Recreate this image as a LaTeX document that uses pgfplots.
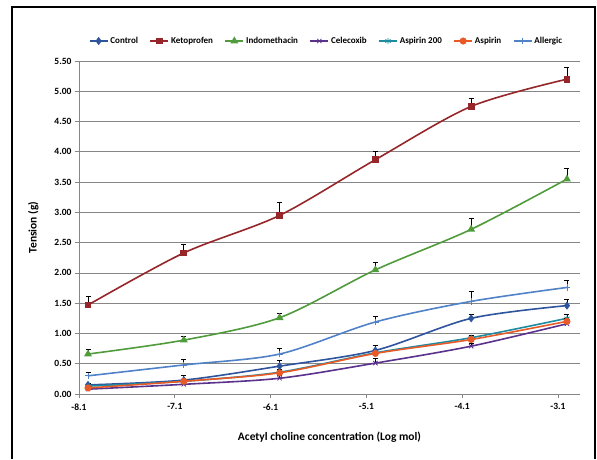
\documentclass[border=0pt]{standalone}
\usepackage{fontspec}
\setmainfont{Carlito}
\usepackage{pgfplots}
\pgfplotsset{compat=1.18}

\definecolor{cControl}{RGB}{46,84,158}
\definecolor{cKeto}{RGB}{150,38,42}
\definecolor{cIndo}{RGB}{80,155,60}
\definecolor{cCele}{RGB}{90,50,140}
\definecolor{cAsp2}{RGB}{30,140,160}
\definecolor{cAsp}{RGB}{232,90,40}
\definecolor{cAll}{RGB}{80,130,200}
\definecolor{gridgray}{RGB}{134,134,134}

\begin{document}
\begin{tikzpicture}
  \begin{axis}[
      at={(0pt,0pt)}, anchor=south west,
      width=501pt, height=333pt, scale only axis,
      xmin=-8.194, xmax=-2.964,
      ymin=0, ymax=5.5,
      xtick={-8.194,-7.194,-6.194,-5.194,-4.194,-3.194},
      xticklabels={-8.1,-7.1,-6.1,-5.1,-4.1,-3.1},
      ytick distance=0.5,
      yticklabel style={/pgf/number format/.cd, fixed, fixed zerofill, precision=2},
      /pgf/number format/assume math mode=true,
      ticklabel style={font=\bfseries\fontsize{9.5}{11}\selectfont, black},
      xticklabel style={yshift=-2pt},
      axis x line=bottom, axis y line=left,
      axis line style={-, gridgray, line width=0.8pt},
      tick style={gridgray, line width=0.8pt},
      tick align=outside, major tick length=4pt,
      ymajorgrids, grid style={gridgray, line width=0.8pt},
      xlabel={Acetyl choline concentration (Log mol)},
      ylabel={Tension (g)},
      label style={font=\bfseries\fontsize{11.5}{13}\selectfont},
      xlabel style={yshift=-15pt},
      ylabel style={yshift=9pt},
      every axis plot/.append style={line width=1.6pt, smooth, tension=0.5},
      error bars/y dir=plus, error bars/y explicit,
      error bars/error bar style={black, line width=0.7pt},
      error bars/error mark options={black, rotate=90, mark size=2.5pt, line width=0.7pt},
      legend columns=7,
      legend style={at={(0.494,1.06)}, anchor=center, draw=none,
        font=\bfseries\fontsize{9}{11}\selectfont,
        /tikz/every even column/.append style={column sep=9.5pt}},
      legend image code/.code={\draw[mark repeat=2,mark phase=2]
        plot coordinates {(0pt,0pt) (9pt,0pt) (18pt,0pt)};},
    ]

    \addplot[cControl, mark=diamond*, mark size=2.8pt, mark options={solid, fill=cControl}]
      coordinates {(-8.1,0.15) +- (0,0.03) (-7.1,0.23) +- (0,0.07) (-6.1,0.46) +- (0,0.09)
        (-5.1,0.72) +- (0,0.08) (-4.1,1.25) +- (0,0.07) (-3.1,1.46) +- (0,0.10)};
    \addlegendentry{Control}

    \addplot[cKeto, mark=square*, mark size=2.6pt, mark options={solid, fill=cKeto}]
      coordinates {(-8.1,1.47) +- (0,0.15) (-7.1,2.33) +- (0,0.15) (-6.1,2.95) +- (0,0.22)
        (-5.1,3.87) +- (0,0.13) (-4.1,4.75) +- (0,0.14) (-3.1,5.20) +- (0,0.20)};
    \addlegendentry{Ketoprofen}

    \addplot[cIndo, mark=triangle*, mark size=3pt, mark options={solid, fill=cIndo}]
      coordinates {(-8.1,0.66) +- (0,0.08) (-7.1,0.89) +- (0,0.07) (-6.1,1.26) +- (0,0.08)
        (-5.1,2.05) +- (0,0.12) (-4.1,2.72) +- (0,0.18) (-3.1,3.55) +- (0,0.17)};
    \addlegendentry{Indomethacin}

    \addplot[cCele, mark=x, mark size=3pt, mark options={solid, line width=0.8pt}]
      coordinates {(-8.1,0.08) +- (0,0.03) (-7.1,0.16) +- (0,0.03) (-6.1,0.26) +- (0,0.05)
        (-5.1,0.51) +- (0,0.08) (-4.1,0.79) +- (0,0.05) (-3.1,1.16) +- (0,0.05)};
    \addlegendentry{Celecoxib}

    \addplot[cAsp2, mark=asterisk, mark size=3pt, mark options={solid, line width=0.8pt}]
      coordinates {(-8.1,0.13) +- (0,0.03) (-7.1,0.21) +- (0,0.04) (-6.1,0.36) +- (0,0.04)
        (-5.1,0.68) +- (0,0.05) (-4.1,0.93) +- (0,0.04) (-3.1,1.25) +- (0,0.06)};
    \addlegendentry{Aspirin 200}

    \addplot[cAsp, mark=*, mark size=2.7pt, mark options={solid, fill=cAsp}]
      coordinates {(-8.1,0.10) +- (0,0.03) (-7.1,0.21) +- (0,0.04) (-6.1,0.35) +- (0,0.04)
        (-5.1,0.67) +- (0,0.04) (-4.1,0.90) +- (0,0.04) (-3.1,1.20) +- (0,0.05)};
    \addlegendentry{Aspirin}

    \addplot[cAll, mark=+, mark size=3.2pt, mark options={solid, line width=0.8pt}]
      coordinates {(-8.1,0.30) +- (0,0.05) (-7.1,0.48) +- (0,0.09) (-6.1,0.66) +- (0,0.09)
        (-5.1,1.19) +- (0,0.10) (-4.1,1.53) +- (0,0.16) (-3.1,1.76) +- (0,0.12)};
    \addlegendentry{Allergic}

  \end{axis}
  \draw[black, line width=1.6pt] (-67pt,-65pt) -- (-67pt,387pt) -- (516pt,387pt) -- (516pt,-65pt);
  \pgfresetboundingbox
  \path[use as bounding box] (-79pt,-65pt) rectangle (518pt,394pt);
\end{tikzpicture}
\end{document}
